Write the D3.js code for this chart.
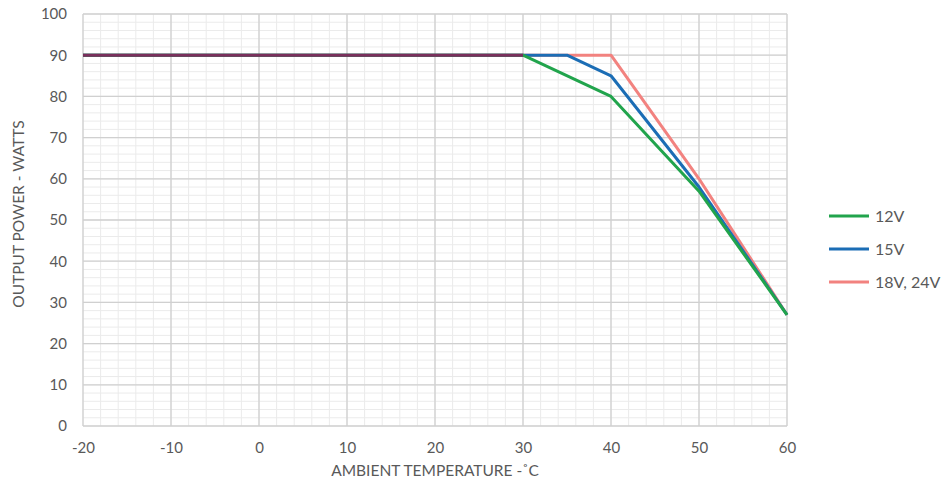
<!DOCTYPE html>
<html>
<head>
<meta charset="utf-8">
<script src="https://cdn.jsdelivr.net/npm/d3@7"></script>
<style>
  body { margin: 0; background: #fff; }
  text { font-family: Lato, "Open Sans", sans-serif; fill: #595959; }
</style>
</head>
<body>
<svg id="chart" width="946" height="485"></svg>
<script>
// derating curves, output power (W) vs ambient temp (C)
var v12 = [[-20, 90], [30, 90], [40, 80], [50, 57], [60, 27]];
var v15 = [[-20, 90], [35, 90], [40, 85], [50, 58], [60, 27]];
var v18 = [[-20, 90], [40, 90], [50, 60], [60, 27]];
var common = [[-20, 90], [30, 90]];

var seriesNames = ["12V", "15V", "18V, 24V"];
var seriesColors = ["#21a44c", "#1b6db5", "#f2827f"];
var xTicks = [-20, -10, 0, 10, 20, 30, 40, 50, 60];
var yTicks = [0, 10, 20, 30, 40, 50, 60, 70, 80, 90, 100];

var margin = {top: 14, left: 83, right: 159, bottom: 59};
var width = 946 - margin.left - margin.right,
    height = 485 - margin.top - margin.bottom;

var svg = d3.select("#chart");
var g = svg.append("g")
  .attr("transform", "translate(" + margin.left + "," + margin.top + ")");

var x = d3.scaleLinear().domain([-20, 60]).range([0, width]);
var y = d3.scaleLinear().domain([0, 100]).range([height, 0]);

// minor grid every 2
g.append("g").selectAll("line")
  .data(d3.range(-20, 61, 2))
  .enter().append("line")
  .attr("x1", function(d) { return x(d); })
  .attr("x2", function(d) { return x(d); })
  .attr("y1", 0).attr("y2", height)
  .attr("stroke", "#ebebeb").attr("stroke-width", 1);
g.append("g").selectAll("line")
  .data(d3.range(0, 101, 2))
  .enter().append("line")
  .attr("y1", function(d) { return y(d); })
  .attr("y2", function(d) { return y(d); })
  .attr("x1", 0).attr("x2", width)
  .attr("stroke", "#ebebeb").attr("stroke-width", 1);

// major grid
g.append("g").selectAll("line")
  .data(xTicks)
  .enter().append("line")
  .attr("x1", function(d) { return x(d); })
  .attr("x2", function(d) { return x(d); })
  .attr("y1", 0).attr("y2", height)
  .attr("stroke", "#d0d0d0").attr("stroke-width", 1.3);
g.append("g").selectAll("line")
  .data(yTicks)
  .enter().append("line")
  .attr("y1", function(d) { return y(d); })
  .attr("y2", function(d) { return y(d); })
  .attr("x1", 0).attr("x2", width)
  .attr("stroke", "#d0d0d0").attr("stroke-width", 1.3);

// axes
var xAxis = g.append("g")
  .attr("transform", "translate(0," + height + ")")
  .call(d3.axisBottom(x).tickValues(xTicks).tickSize(0).tickPadding(16)
    .tickFormat(function(d) { return String(d); }));
var yAxis = g.append("g")
  .call(d3.axisLeft(y).tickValues(yTicks).tickSize(0).tickPadding(16)
    .tickFormat(function(d) { return String(d); }));
[xAxis, yAxis].forEach(function(a) {
  a.select(".domain").remove();
  a.selectAll("text").style("font-size", "15px").attr("fill", "#595959")
    .style("font-family", "Lato, 'Open Sans', sans-serif");
});

// lines
var line = d3.line()
  .x(function(d) { return x(d[0]); })
  .y(function(d) { return y(d[1]); });

[v18, v15, v12].forEach(function(s, i) {
  var idx = 2 - i;
  g.append("path")
    .datum(s)
    .attr("fill", "none")
    .attr("stroke", seriesColors[idx])
    .attr("stroke-width", 3)
    .attr("stroke-linejoin", "round")
    .attr("d", line);
});
g.append("path")
  .datum(common)
  .attr("fill", "none")
  .attr("stroke", "#7a2f5c")
  .attr("stroke-width", 3)
  .attr("d", line);

// axis titles
svg.append("text")
  .attr("x", margin.left + width / 2)
  .attr("y", 476)
  .attr("text-anchor", "middle")
  .style("font-size", "15.5px")
  .text("AMBIENT TEMPERATURE -\u02DAC");

svg.append("text")
  .attr("transform", "translate(24," + (margin.top + height / 2 - 6) + ") rotate(-90)")
  .attr("text-anchor", "middle")
  .style("font-size", "15.5px")
  .text("OUTPUT POWER - WATTS");

// legend
var legend = svg.append("g").attr("transform", "translate(829,216)");
seriesNames.forEach(function(n, i) {
  var row = legend.append("g").attr("transform", "translate(0," + (i * 33) + ")");
  row.append("line")
    .attr("x1", 0).attr("x2", 40)
    .attr("stroke", seriesColors[i]).attr("stroke-width", 3);
  row.append("text")
    .attr("x", 46).attr("y", 5.5)
    .style("font-size", "16px")
    .text(n);
});
</script>
</body>
</html>
